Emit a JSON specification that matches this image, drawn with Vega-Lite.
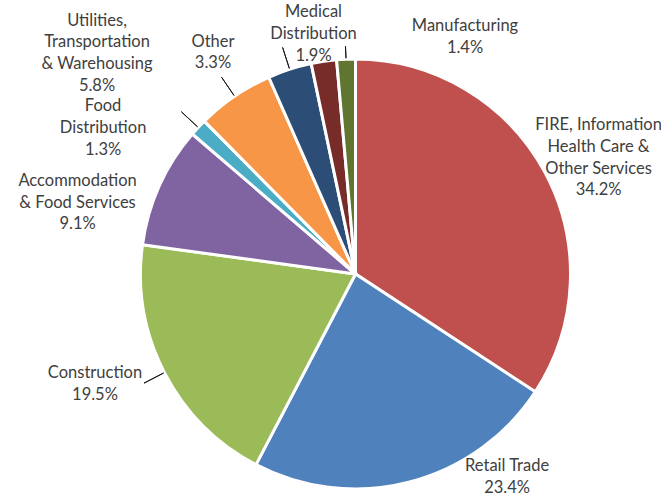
{
  "$schema": "https://vega.github.io/schema/vega-lite/v6.json",
  "width": 611,
  "height": 452,
  "autosize": {"type": "none"},
  "padding": {"left": 50, "top": 48, "right": 0, "bottom": 0},
  "background": "white",
  "config": {
    "view": {"stroke": null},
    "text": {"font": "Lato", "fontSize": 16.5, "fill": "#404040", "align": "center", "baseline": "middle", "lineHeight": 21.7}
  },
  "data": {
    "values": [
      {"key": "fire", "category": "FIRE, Information Health Care & Other Services", "pct": 34.2, "rank": 1, "label": ["FIRE, Information", "Health Care &", "Other Services", "34.2%"]},
      {"key": "retail", "category": "Retail Trade", "pct": 23.4, "rank": 2, "label": ["Retail Trade", "23.4%"]},
      {"key": "constr", "category": "Construction", "pct": 19.5, "rank": 3, "label": ["Construction", "19.5%"]},
      {"key": "accom", "category": "Accommodation & Food Services", "pct": 9.1, "rank": 4, "label": ["Accommodation", "& Food Services", "9.1%"]},
      {"key": "food", "category": "Food Distribution", "pct": 1.3, "rank": 5, "label": ["Food", "Distribution", "1.3%"]},
      {"key": "util", "category": "Utilities, Transportation & Warehousing", "pct": 5.8, "rank": 6, "label": ["Utilities,", "Transportation", "& Warehousing", "5.8%"]},
      {"key": "other", "category": "Other", "pct": 3.3, "rank": 7, "label": ["Other", "3.3%"]},
      {"key": "medical", "category": "Medical Distribution", "pct": 1.9, "rank": 8, "label": ["Medical", "Distribution", "1.9%"]},
      {"key": "manuf", "category": "Manufacturing", "pct": 1.4, "rank": 9, "label": ["Manufacturing", "1.4%"]}
    ]
  },
  "encoding": {
    "theta": {"field": "pct", "type": "quantitative", "stack": true},
    "order": {"field": "rank", "type": "quantitative"},
    "detail": {"field": "key", "type": "nominal"}
  },
  "layer": [
    {
      "mark": {"type": "arc", "outerRadius": 215, "stroke": "white", "strokeWidth": 3},
      "encoding": {
        "color": {
          "field": "key",
          "type": "nominal",
          "scale": {
            "domain": ["fire", "retail", "constr", "accom", "food", "util", "other", "medical", "manuf"],
            "range": ["#C0504D", "#4F81BD", "#9BBB59", "#8064A2", "#4BACC6", "#F79646", "#2C4D75", "#772C2A", "#5F7530"]
          },
          "legend": null
        }
      }
    },
    {
      "mark": {"type": "arc", "innerRadius": 216, "outerRadius": 238, "padAngle": 3.1, "fillOpacity": 0, "stroke": "#1a1a1a", "strokeWidth": 1},
      "encoding": {
        "strokeOpacity": {"condition": {"test": "indexof(['constr','food','util','other'], datum.key) >= 0", "value": 1}, "value": 0}
      }
    },
    {
      "mark": {"type": "arc", "innerRadius": 216, "outerRadius": 228, "padAngle": 3.1, "fillOpacity": 0, "stroke": "#1a1a1a", "strokeWidth": 1},
      "encoding": {
        "strokeOpacity": {"condition": {"test": "datum.key === 'manuf'", "value": 1}, "value": 0}
      }
    },
    {"mark": {"type": "text", "radius": 270, "dx": 5.5, "dy": -20.5}, "encoding": {"text": {"condition": {"test": "datum.key === 'fire'", "field": "label"}, "value": ""}}},
    {"mark": {"type": "text", "radius": 234, "dx": 92.6, "dy": -34.2}, "encoding": {"text": {"condition": {"test": "datum.key === 'retail'", "field": "label"}, "value": ""}}},
    {"mark": {"type": "text", "radius": 281, "dx": -10.8, "dy": -29.7}, "encoding": {"text": {"condition": {"test": "datum.key === 'constr'", "field": "label"}, "value": ""}}},
    {"mark": {"type": "text", "radius": 283, "dx": -19.9, "dy": 23}, "encoding": {"text": {"condition": {"test": "datum.key === 'accom'", "field": "label"}, "value": ""}}},
    {"mark": {"type": "text", "radius": 285, "dx": -43.9, "dy": 26.5}, "encoding": {"text": {"condition": {"test": "datum.key === 'food'", "field": "label"}, "value": ""}}},
    {"mark": {"type": "text", "radius": 329, "dx": -73.4, "dy": 18.5}, "encoding": {"text": {"condition": {"test": "datum.key === 'util'", "field": "label"}, "value": ""}}},
    {"mark": {"type": "text", "radius": 255, "dx": -64.4, "dy": 10.3}, "encoding": {"text": {"condition": {"test": "datum.key === 'other'", "field": "label"}, "value": ""}}},
    {"mark": {"type": "text", "radius": 243, "dx": -6.2, "dy": -21.3}, "encoding": {"text": {"condition": {"test": "datum.key === 'medical'", "field": "label"}, "value": ""}}},
    {"mark": {"type": "text", "radius": 234, "dx": 119.8, "dy": -14}, "encoding": {"text": {"condition": {"test": "datum.key === 'manuf'", "field": "label"}, "value": ""}}}
  ]
}
